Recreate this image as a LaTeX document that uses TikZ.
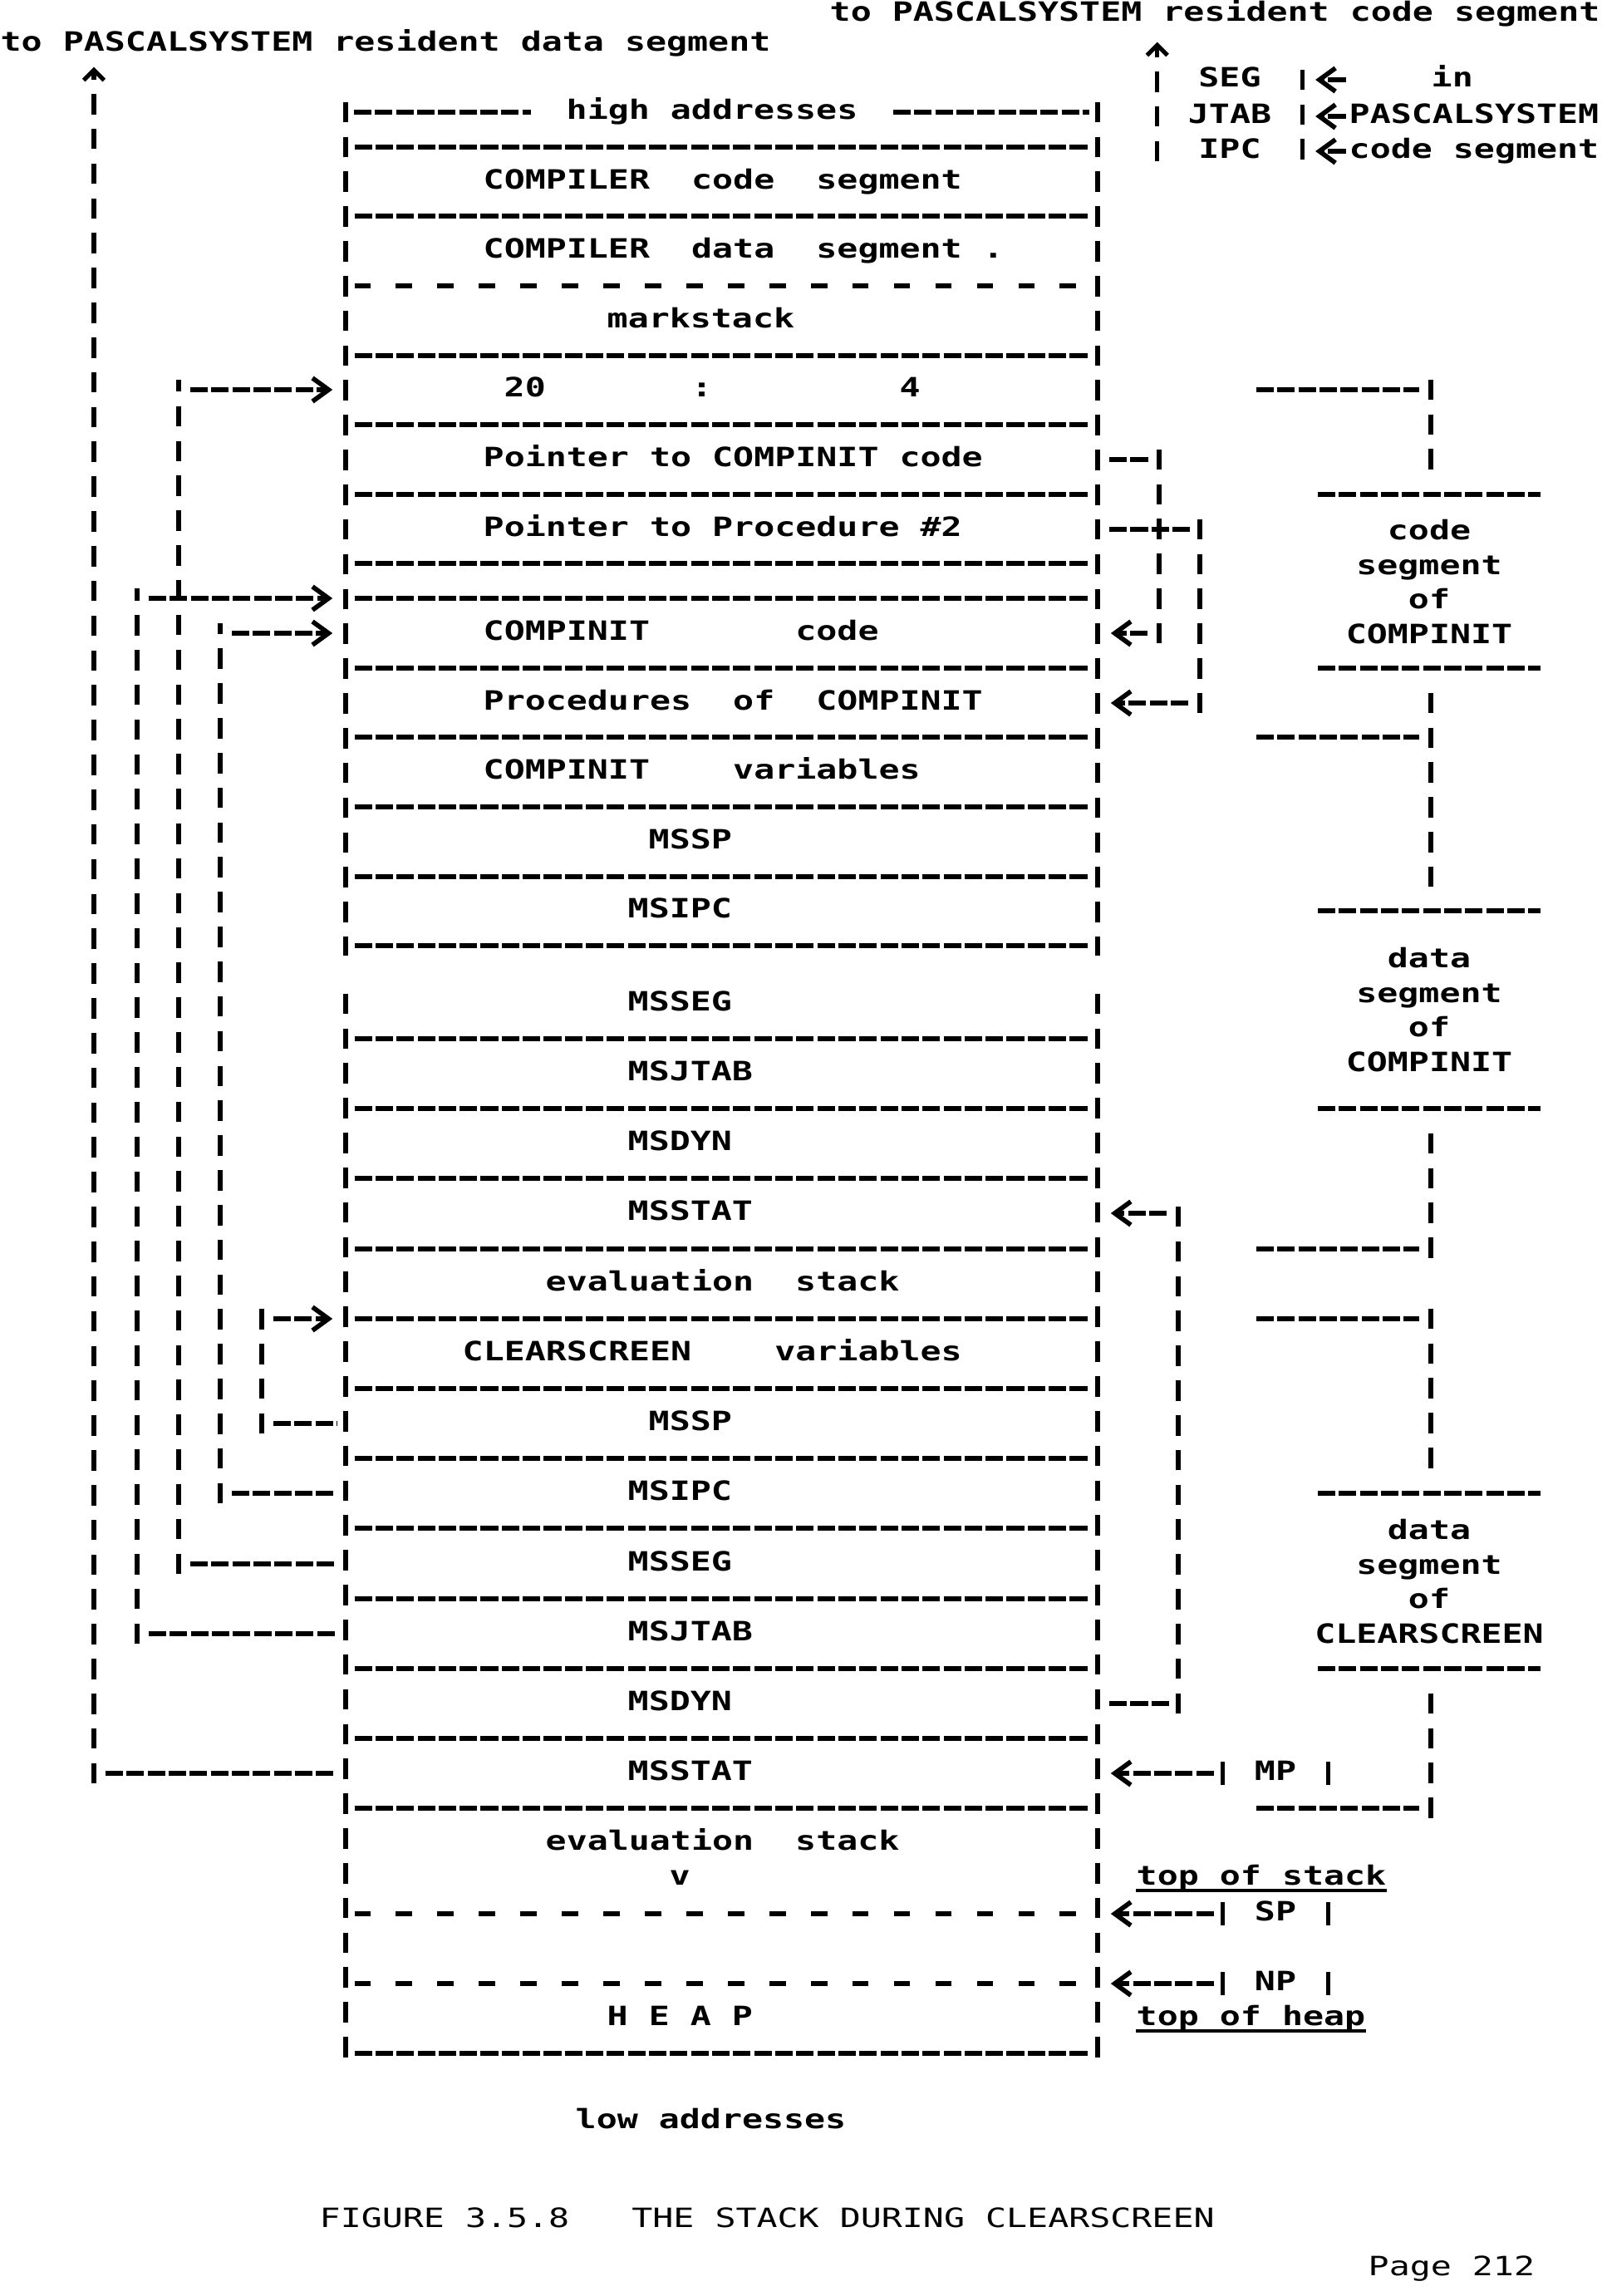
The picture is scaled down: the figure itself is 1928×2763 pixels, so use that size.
\documentclass[tikz,border=0pt]{standalone}
\usepackage{fontspec}
\usepackage{tikz}
\usetikzlibrary{arrows.meta,positioning,calc}
\newfontfamily\dotfont[FakeStretch=1.3]{DejaVu Sans Mono}
\frenchspacing

\tikzset{
    txt/.style={font=\dotfont\bfseries\fontsize{9.1}{11.9}\selectfont, inner sep=0pt, text height=6.6pt, text depth=1.9pt, anchor=west},
    lbl/.style={font=\dotfont\bfseries\fontsize{9.1}{11.9}\selectfont, inner sep=0pt, align=center},
    capt/.style={txt, font=\dotfont\fontsize{9.1}{11.9}\selectfont},
    tabrow/.style={txt, anchor=center, minimum width=1.73cm},
    reg/.style={txt, anchor=center, minimum width=1.26cm},
    sepline/.style={line width=1.6pt, dash pattern=on 6pt off 1.2pt},
    gapline/.style={line width=1.6pt, dash pattern=on 5.6pt off 8.6pt},
    bar/.style={line width=1.45pt, dash pattern=on 7pt off 4.9pt, shorten <=-3.5pt, shorten >=-3.5pt},
    hlink/.style={sepline, shorten <=4pt, shorten >=3pt},
    tip/.style={-{Straight Barb[length=5.5pt,width=8pt]}, shorten >=4.5pt},
    caret/.style={-{Straight Barb[length=3.5pt,width=7pt]}},
    regbar/.style={line width=1.45pt, shorten <=0.5pt, shorten >=0.5pt},
    uline/.style={line width=1.2pt}
}

\begin{document}
\begin{tikzpicture}[x=0.01cm, y=-0.01cm]
    \useasboundingbox (0,0) rectangle (1928,2763);

    \node [txt] (pdata) at (0,53) {to PASCALSYSTEM resident data segment};
    \node [txt] (ptitle) at (998,17) {to PASCALSYSTEM resident code segment};

    % SEG / JTAB / IPC in PASCALSYSTEM
    \node [tabrow] (seg) at (1480,96) {SEG};
    \node [tabrow] (jtab) at (1480,140) {JTAB};
    \node [tabrow] (ipc) at (1480,182) {IPC};
    \node [txt] (lin) at (1722,96) {in};
    \node [txt] (lpas) at (1623,140) {PASCALSYSTEM};
    \node [txt] (lcs) at (1623,182) {code segment};
    \draw [bar] (seg.east) -- (ipc.east);
    \draw [bar, shorten >=0pt, caret] (ipc.west) -- ($(seg.west |- ptitle.south)+(0,18)$);
    \draw [hlink, tip, shorten <=1pt] (seg -| lpas.west) -- (seg.east);
    \draw [hlink, tip, shorten <=1pt] (lpas.west) -- (jtab.east);
    \draw [hlink, tip, shorten <=1pt] (lcs.west) -- (ipc.east);

    % the stack
    \coordinate (L) at (416,0);
    \coordinate (R) at (1321,0);
    \foreach \y in {177,260,428,511,595,678,720,804,887,971,1055,1138,1250,1334,1418,1503,1587,1671,1755,1839,1924,2008,2092,2176,2471}
        \draw [sepline, shorten <=3pt, shorten >=3pt] (416,\y) -- (1321,\y);
    \foreach \y in {344,2303,2387}
        \draw [gapline, shorten <=3pt, shorten >=3pt] (416,\y) -- (1321,\y);
    \foreach \x in {416,1321} {
        \draw [bar] (\x,135) -- (\x,1138);
        \draw [bar] (\x,1208) -- (\x,2471);
    }

    \node [txt] (hi) at (681,135) {high addresses};
    \draw [sepline] ($(hi -| L)+(10,0)$) -- ($(hi.west)+(-42,0)$);
    \draw [sepline] ($(hi.east)+(42,0)$) -- ($(hi -| R)+(-10,0)$);

    \node [txt] (ccode) at (581,219) {COMPILER~~code~~segment};
    \node [txt] (cdata) at (581,302) {COMPILER~~data~~segment~.};
    \node [txt] (mark) at (730,386) {markstack};
    \node [txt] (segno) at (606,469) {20~~~~~~~:~~~~~~~~~4};
    \node [txt] (pcode) at (581,553) {Pointer to COMPINIT code};
    \node [txt] (pproc) at (581,637) {Pointer to Procedure \#2};
    \node [txt] (cicode) at (581,762) {COMPINIT~~~~~~~code};
    \node [txt] (ciproc) at (581,846) {Procedures~~of~~COMPINIT};
    \node [txt] (civar) at (581,929) {COMPINIT~~~~variables};
    \node [txt] (msspA) at (780,1013) {MSSP};
    \node [txt] (msipcA) at (755,1096) {MSIPC};
    \node [txt] (mssegA) at (755,1208) {MSSEG};
    \node [txt] (msjtabA) at (755,1292) {MSJTAB};
    \node [txt] (msdynA) at (755,1376) {MSDYN};
    \node [txt] (msstatA) at (755,1460) {MSSTAT};
    \node [txt] (evalA) at (656,1545) {evaluation~~stack};
    \node [txt] (csvar) at (556,1629) {CLEARSCREEN~~~~variables};
    \node [txt] (msspB) at (780,1713) {MSSP};
    \node [txt] (msipcB) at (755,1797) {MSIPC};
    \node [txt] (mssegB) at (755,1882) {MSSEG};
    \node [txt] (msjtabB) at (755,1966) {MSJTAB};
    \node [txt] (msdynB) at (755,2050) {MSDYN};
    \node [txt] (msstatB) at (755,2134) {MSSTAT};
    \node [txt] (evalB) at (656,2218) {evaluation~~stack};
    \node [txt] (down) at (805,2260) {v};
    \node [txt] (heap) at (730,2429) {H E A P};

    \coordinate (cistart) at (416,720);
    \coordinate (csstart) at (416,1587);

    % links on the left
    \coordinate (statcol) at (113,0);
    \coordinate (jtabcol) at (165,0);
    \coordinate (segcol) at (215,0);
    \coordinate (ipccol) at (265,0);
    \coordinate (spcol) at (315,0);

    \draw [hlink] (msstatB -| statcol) -- (msstatB -| L);
    \draw [bar, shorten >=0pt, caret] (msstatB -| statcol) -- ($(statcol |- pdata.south)+(0,12)$);

    \draw [hlink] (msjtabB -| jtabcol) -- (msjtabB -| L);
    \draw [bar] (msjtabB -| jtabcol) -- (cistart -| jtabcol);
    \draw [hlink, tip] (cistart -| jtabcol) -- (cistart);

    \draw [hlink] (mssegB -| segcol) -- (mssegB -| L);
    \draw [bar] (mssegB -| segcol) -- (segno -| segcol);
    \draw [hlink, tip] (segno -| segcol) -- (segno -| L);

    \draw [hlink] (msipcB -| ipccol) -- (msipcB -| L);
    \draw [bar] (msipcB -| ipccol) -- (cicode -| ipccol);
    \draw [hlink, tip] (cicode -| ipccol) -- (cicode -| L);

    \draw [hlink] (msspB -| spcol) -- (msspB -| L);
    \draw [bar] (msspB -| spcol) -- (csstart -| spcol);
    \draw [hlink, tip] (csstart -| spcol) -- (csstart);

    % links on the right
    \coordinate (pcodecol) at (1395,0);
    \coordinate (pproccol) at (1444,0);
    \coordinate (dyncol) at (1418,0);

    \draw [hlink] (pcode -| R) -- (pcode -| pcodecol);
    \draw [bar] (pcode -| pcodecol) -- (cicode -| pcodecol);
    \draw [hlink, tip] (cicode -| pcodecol) -- (cicode -| R);

    \draw [hlink] (pproc -| R) -- (pproc -| pproccol);
    \draw [bar] (pproc -| pproccol) -- (ciproc -| pproccol);
    \draw [hlink, tip] (ciproc -| pproccol) -- (ciproc -| R);

    \draw [hlink] (msdynB -| R) -- (msdynB -| dyncol);
    \draw [bar] (msdynB -| dyncol) -- (msstatA -| dyncol);
    \draw [hlink, tip] (msstatA -| dyncol) -- (msstatA -| R);

    % registers
    \node [reg] (mp) at (1535,2134) {MP};
    \node [reg] (sp) at (1535,2303) {SP};
    \node [reg] (np) at (1535,2387) {NP};
    \foreach \rg in {mp,sp,np} {
        \draw [regbar] (\rg.north west) -- (\rg.south west);
        \draw [regbar] (\rg.north east) -- (\rg.south east);
        \draw [hlink, tip, shorten <=3pt] (\rg.west) -- (\rg -| R);
    }

    \node [txt] (tos) at (1367,2260) {top of stack};
    \node [txt] (toh) at (1367,2429) {top of heap};
    \draw [uline] ([yshift=-1.8pt]tos.base west) -- ([yshift=-1.8pt]tos.base east);
    \draw [uline] ([yshift=-1.8pt]toh.base west) -- ([yshift=-1.8pt]toh.base east);

    % code segment of COMPINIT
    \draw [sepline] (1512,469) -- (1708,469);
    \draw [bar] (1722,469) -- (1722,553);
    \draw [sepline] (1586,595) -- (1854,595);
    \node [lbl] (cseg) at (1720,700) {code\\segment\\of\\COMPINIT};
    \draw [sepline] (1586,804) -- (1854,804);
    \draw [bar] (1722,846) -- (1722,1055);
    \draw [sepline] (1512,887) -- (1708,887);

    % data segment of COMPINIT
    \draw [sepline] (1586,1096) -- (1854,1096);
    \node [lbl] (dseg) at (1720,1215) {data\\segment\\of\\COMPINIT};
    \draw [sepline] (1586,1334) -- (1854,1334);
    \draw [bar] (1722,1376) -- (1722,1503);
    \draw [sepline] (1512,1503) -- (1708,1503);

    % data segment of CLEARSCREEN
    \draw [sepline] (1512,1587) -- (1708,1587);
    \draw [bar] (1722,1587) -- (1722,1755);
    \draw [sepline] (1586,1797) -- (1854,1797);
    \node [lbl] (cdseg) at (1720,1903) {data\\segment\\of\\CLEARSCREEN};
    \draw [sepline] (1586,2008) -- (1854,2008);
    \draw [bar] (1722,2050) -- (1722,2176);
    \draw [sepline] (1512,2176) -- (1708,2176);

    \node [txt] (low) at (692,2553) {low addresses};
    \node [capt] (fig) at (384,2672) {FIGURE 3.5.8~~~THE STACK DURING CLEARSCREEN};
    \node [capt] (page) at (1646,2730) {Page 212};
\end{tikzpicture}
\end{document}
